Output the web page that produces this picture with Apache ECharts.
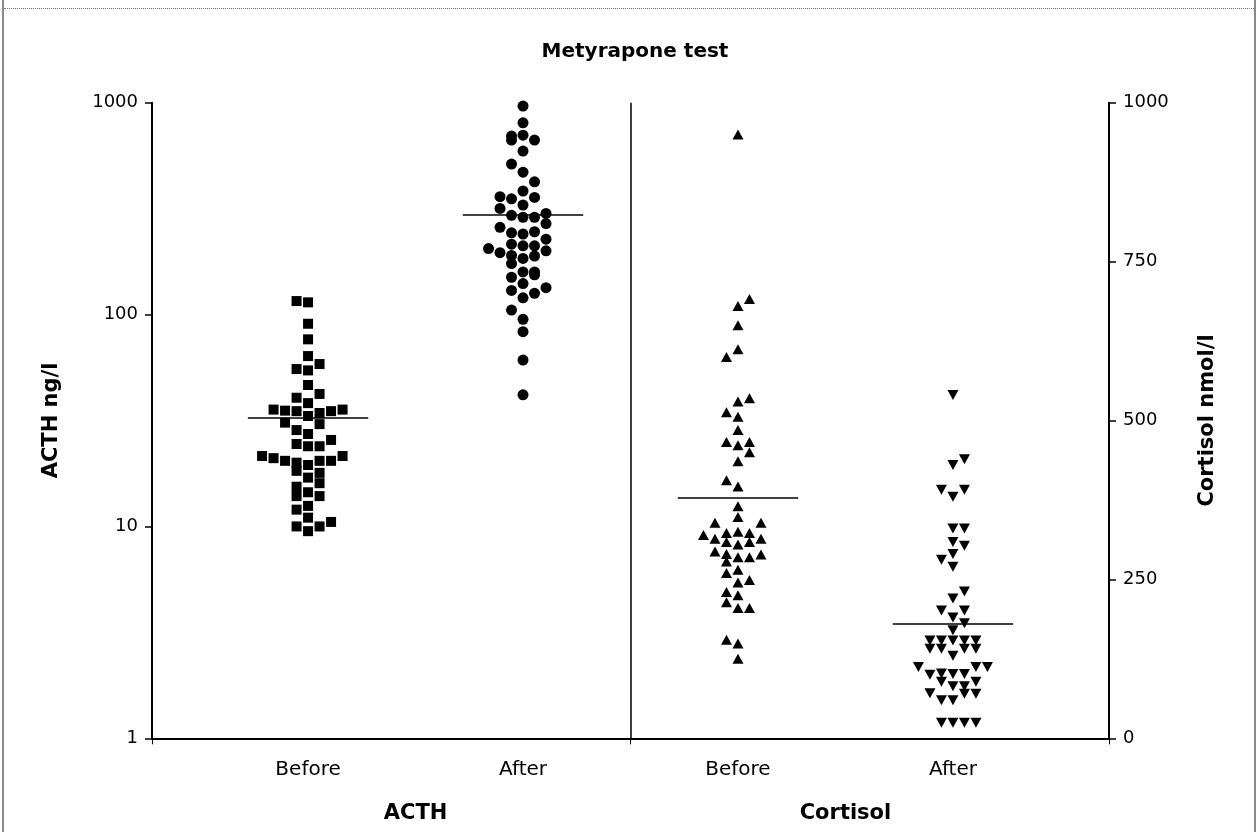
<!DOCTYPE html>
<html>
<head>
<meta charset="utf-8">
<script src="https://cdn.jsdelivr.net/npm/echarts@6/dist/echarts.min.js"></script>
<style>
  html, body { margin: 0; padding: 0; background: #fff; }
  #wrap { position: relative; width: 1258px; height: 832px; }
  #div_chart { position: absolute; left: 0; top: 0; width: 1258px; height: 832px; }
  .frame_l { position: absolute; left: 2px; top: 0; width: 2px; height: 832px; background: #8a8a8a; }
  .frame_r { position: absolute; left: 1254px; top: 0; width: 2px; height: 832px; background: #8a8a8a; }
  .frame_t { position: absolute; left: 4px; top: 8px; width: 1250px; height: 0; border-top: 1px dotted #777; }
</style>
</head>
<body>
<div id="wrap">
  <div id="div_chart"></div>
  <div class="frame_l"></div>
  <div class="frame_r"></div>
  <div class="frame_t"></div>
</div>
<script>
"use strict";

// categories along the x axis, and the two groups
const categories = ["Before", "After", "Before", "After"];
const groups = ["ACTH", "Cortisol"];

// ACTH before metyrapone (ng/l, log axis) + swarm column of each dot
const acth_before = [115.8, 114.2, 90.5, 76.4, 63.7, 58.4, 55.3, 54.5, 46.5, 42.2,
  40.5, 38.2, 35.6, 35.2, 35.0, 33.2, 34.3, 35.0, 35.6, 30.9,
  30.4, 28.5, 27.3, 24.5, 23.9, 23.9, 25.6, 21.5, 21.0, 20.4,
  20.0, 19.5, 20.4, 20.4, 21.5, 18.3, 17.9, 17.0, 16.0, 15.4,
  13.9, 14.5, 13.9, 12.0, 12.5, 11.0, 10.0, 9.5, 10.0, 10.5];
const acth_before_col = [-1, 0, 0, 0, 0, 1, -1, 0, 0, 1,
  -1, 0, -3, -2, -1, 0, 1, 2, 3, -2,
  1, -1, 0, -1, 0, 1, 2, -4, -3, -2,
  -1, 0, 1, 2, 3, -1, 1, 0, 1, -1,
  -1, 0, 1, -1, 0, 0, -1, 0, 1, 2];

// ACTH after metyrapone
const acth_after = [964, 804, 696, 666, 703, 666, 591, 513, 470, 423,
  383, 360, 352, 357, 329, 317, 294, 288, 288, 300,
  269, 258, 243, 240, 246, 227, 205, 196, 215, 211,
  211, 200, 190, 174, 184, 189, 159, 159, 154, 150,
  140, 130, 120, 126, 134, 105, 95, 83, 61, 41.8];
const acth_after_col = [0, 0, -1, -1, 0, 1, 0, -1, 0, 1,
  0, -2, -1, 1, 0, -2, -1, 0, 1, 2,
  2, -2, -1, 0, 1, 2, -3, -2, -1, 0,
  1, 2, -1, -1, 0, 1, 0, 1, 1, -1,
  0, -1, 0, 1, 2, -1, 0, 0, 0, 0];

// cortisol before (nmol/l, linear axis)
const cort_before = [950, 691, 680, 650, 612, 600, 535, 530, 513, 506,
  485, 466, 461, 466, 450, 436, 406, 396, 365, 348,
  339, 339, 320, 314, 323, 325, 323, 314, 309, 305,
  309, 294, 290, 278, 285, 285, 289, 260, 265, 245,
  249, 230, 225, 214, 205, 205, 155, 149, 125];
const cort_before_col = [0, 1, 0, 0, 0, -1, 1, 0, -1, 0,
  0, -1, 0, 1, 1, 0, -1, 0, 0, 0,
  -2, 2, -3, -2, -1, 0, 1, 2, -1, 0,
  1, -2, -1, -1, 0, 1, 2, -1, 0, 0,
  1, -1, 0, -1, 0, 1, -1, 0, 0];

// cortisol after
const cort_after = [540, 439, 430, 391, 380, 391, 330, 330, 309, 303,
  281, 290, 270, 231, 220, 201, 201, 190, 181, 170,
  154, 154, 154, 154, 154, 141, 141, 141, 141, 130,
  112, 100, 102, 101, 101, 112, 112, 89, 82, 82,
  89, 71, 60, 60, 70, 70, 24.5, 24.5, 24.5, 24.5];
const cort_after_col = [0, 1, 0, -1, 0, 1, 0, 1, 0, 1,
  -1, 0, 0, 1, 0, -1, 1, 0, 1, 0,
  -2, -1, 0, 1, 2, -2, -1, 1, 2, 0,
  -3, -2, -1, 0, 1, 2, 3, -1, 0, 1,
  2, -2, -1, 0, 1, 2, -1, 0, 1, 2];

// group medians (horizontal bars)
const medians = [32.7, 297, 378, 180];

const col_step = 0.0535;   // one swarm column in x units
const half_bar = 0.28;     // half width of the median bar
const x_min = -0.726;
const x_max = 3.726;

function to_points(values, cols, pos) {
  return values.map((v, i) => [pos + cols[i] * col_step, v]);
}

function median_line(pos, m) {
  return {
    silent: true,
    symbol: "none",
    label: { show: false },
    lineStyle: { color: "#000", width: 1.5, type: "solid", opacity: 1 },
    data: [[{ coord: [pos - half_bar, m] }, { coord: [pos + half_bar, m] }]],
  };
}

const html_div_chart = document.getElementById("div_chart");
const chart = echarts.init(html_div_chart);

const font = "'DejaVu Sans', sans-serif";
const dot_style = { color: "#000", opacity: 1 };

chart.setOption({
  animation: false,
  title: {
    text: "Metyrapone test",
    left: 630,
    textAlign: "center",
    top: 37,
    textStyle: { fontFamily: font, fontSize: 20, fontWeight: "bold", color: "#000" },
  },
  grid: { left: 152, right: 149, top: 102.7, bottom: 93.7 },
  xAxis: [
    {
      type: "value",
      min: x_min,
      max: x_max,
      splitLine: { show: false },
      axisLine: { onZero: false, lineStyle: { color: "#000", width: 2 } },
      axisTick: { customValues: [x_min, 1.5, x_max], length: 6, lineStyle: { color: "#000" } },
      axisLabel: {
        customValues: [0, 1, 2, 3],
        formatter: (v) => categories[Math.round(v)],
        margin: 21,
        color: "#000",
        fontFamily: font,
        fontSize: 20,
      },
    },
    {
      type: "value",
      position: "bottom",
      min: x_min,
      max: x_max,
      splitLine: { show: false },
      axisLine: { show: false, onZero: false },
      axisTick: { show: false },
      axisLabel: {
        customValues: [0.5, 2.5],
        formatter: (v) => groups[Math.round(v - 0.5) / 2],
        margin: 65,
        color: "#000",
        fontFamily: font,
        fontSize: 21,
        fontWeight: "bold",
      },
    },
  ],
  yAxis: [
    {
      type: "log",
      logBase: 10,
      min: 1,
      max: 1000,
      name: "ACTH ng/l",
      nameLocation: "middle",
      nameGap: 90,
      nameTextStyle: { fontFamily: font, fontSize: 21, fontWeight: "bold", color: "#000" },
      splitLine: { show: false },
      axisLine: { show: true, onZero: false, lineStyle: { color: "#000", width: 2 } },
      axisTick: { show: true, length: 7, lineStyle: { color: "#000", width: 1.5 } },
      axisLabel: { color: "#000", fontFamily: font, fontSize: 18, margin: 14, formatter: (v) => String(v) },
    },
    {
      type: "value",
      min: 0,
      max: 1000,
      interval: 250,
      position: "right",
      name: "Cortisol nmol/l",
      nameLocation: "middle",
      nameGap: 88,
      nameRotate: 90,
      nameTextStyle: { fontFamily: font, fontSize: 21, fontWeight: "bold", color: "#000" },
      splitLine: { show: false },
      axisLine: { show: true, onZero: false, lineStyle: { color: "#000", width: 2 } },
      axisTick: { show: true, length: 7, lineStyle: { color: "#000", width: 1.5 } },
      axisLabel: { color: "#000", fontFamily: font, fontSize: 18, margin: 14, formatter: (v) => String(v) },
    },
  ],
  series: [
    {
      type: "scatter",
      name: "ACTH before",
      yAxisIndex: 0,
      symbol: "rect",
      symbolSize: 10,
      itemStyle: dot_style,
      data: to_points(acth_before, acth_before_col, 0),
      markLine: median_line(0, medians[0]),
    },
    {
      type: "scatter",
      name: "ACTH after",
      yAxisIndex: 0,
      symbol: "circle",
      symbolSize: 11,
      itemStyle: dot_style,
      data: to_points(acth_after, acth_after_col, 1),
      markLine: median_line(1, medians[1]),
    },
    {
      type: "scatter",
      name: "Cortisol before",
      yAxisIndex: 1,
      symbol: "triangle",
      symbolSize: [11, 10],
      itemStyle: dot_style,
      data: to_points(cort_before, cort_before_col, 2),
      markLine: {
        silent: true,
        symbol: "none",
        label: { show: false },
        lineStyle: { color: "#000", width: 1.5, type: "solid", opacity: 1 },
        data: [
          [{ coord: [2 - half_bar, medians[2]] }, { coord: [2 + half_bar, medians[2]] }],
          // group divider
          [{ coord: [1.5, 0] }, { coord: [1.5, 1000] }],
        ],
      },
    },
    {
      type: "scatter",
      name: "Cortisol after",
      yAxisIndex: 1,
      symbol: "triangle",
      symbolRotate: 180,
      symbolSize: [11, 10],
      itemStyle: dot_style,
      data: to_points(cort_after, cort_after_col, 3),
      markLine: median_line(3, medians[3]),
    },
  ],
});
</script>
</body>
</html>
